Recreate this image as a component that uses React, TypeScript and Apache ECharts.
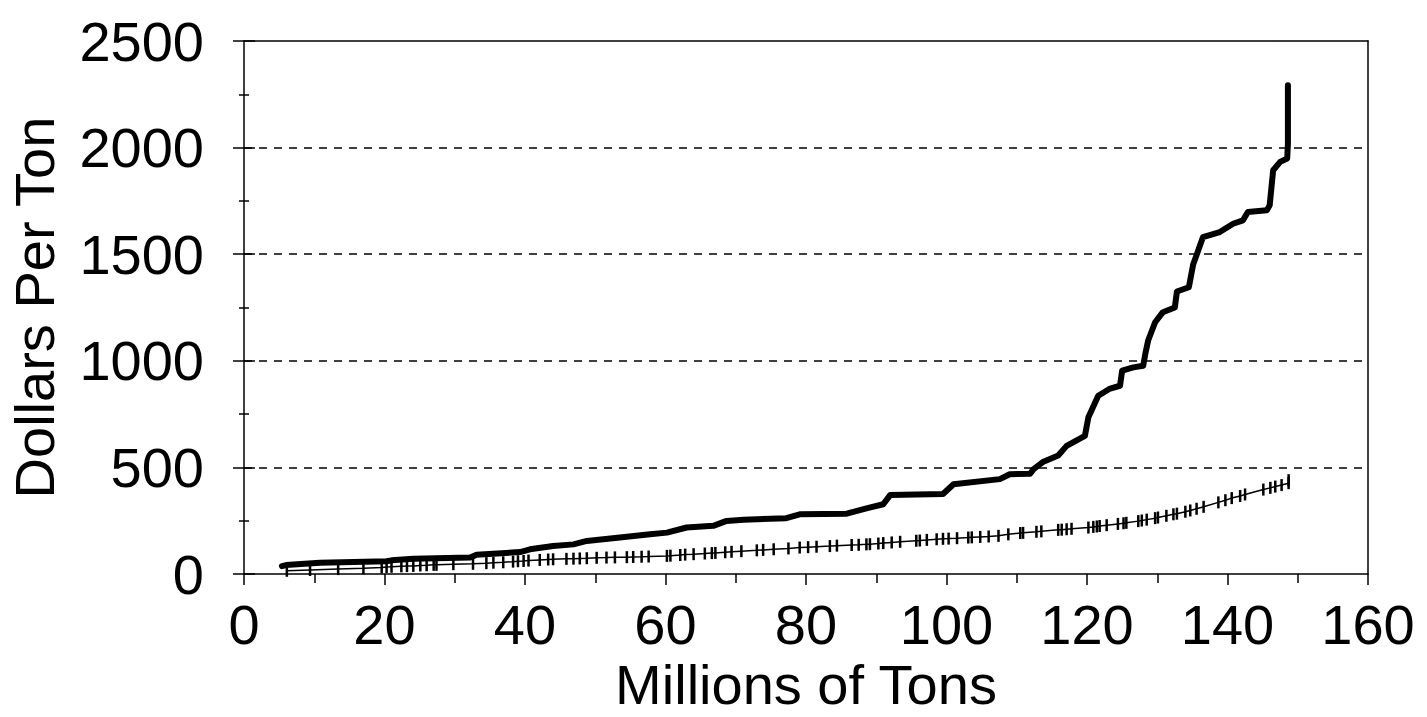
import React, { useEffect, useRef } from "react";
import * as echarts from "echarts";

// Millions of tons (x) vs dollars per ton (y)
const upperCurve: [number, number][] = [
  [5.4, 37], [6, 42], [10.8, 53], [20.3, 60], [21, 64], [24.1, 72], [32.2, 77], [33.1, 90],
  [39.3, 103], [40.7, 116], [44, 131], [46.9, 139], [48.8, 155], [53.5, 171], [57.8, 186],
  [60.2, 194], [63, 218], [66.8, 226], [68.7, 249], [71.1, 254], [77.2, 262], [79.1, 280],
  [85.8, 283], [88.6, 308], [91, 327], [92, 371], [99.5, 375], [101, 421], [107.6, 445],
  [109, 468], [111.9, 470], [112.4, 492], [113.8, 527], [115.9, 556], [117.1, 601],
  [119.7, 648], [120.2, 735], [121.6, 836], [123.3, 870], [124.7, 883], [125, 954],
  [126.6, 969], [128, 977], [128.3, 1032], [128.7, 1095], [129.7, 1181], [130.8, 1228],
  [132.5, 1250], [132.8, 1325], [134.5, 1345], [135.1, 1450], [136.5, 1580], [138.9, 1604],
  [140.8, 1643], [142.2, 1659], [142.9, 1698], [145.6, 1706], [146, 1729], [146.5, 1894],
  [147.5, 1933], [148.5, 1949], [148.6, 2019], [148.6, 2293],
];

const lowerCurve: [number, number][] = [
  [6.1, 15], [9.4, 19], [13.4, 23], [17, 27], [19.6, 31], [20.3, 33], [21, 34], [22.4, 36],
  [23.2, 37], [24.1, 38], [25.1, 40], [26, 41], [27, 43], [27.4, 43], [29.8, 46], [32.6, 48],
  [34.5, 51], [35.5, 53], [36.9, 55], [38.3, 58], [39, 60], [39.8, 61], [40.5, 63], [42.1, 66],
  [43.3, 68], [44, 69], [45.9, 71], [46.9, 72], [47.8, 73], [48.8, 74], [50.2, 76], [51.6, 77],
  [52.8, 78], [54.5, 79], [55.4, 80], [56.6, 81], [57.6, 82], [60.2, 85], [60.7, 86], [62.1, 89],
  [62.8, 91], [64, 93], [65.6, 96], [66.6, 98], [67.1, 99], [68.5, 102], [69.4, 104], [70.8, 107],
  [73, 111], [73.9, 113], [75.4, 116], [77.5, 120], [79.1, 124], [80.3, 126], [81.5, 128],
  [83.4, 131], [84.4, 133], [86.5, 136], [87.5, 137], [88.6, 139], [89.1, 140], [90.3, 143],
  [91, 145], [92.2, 148], [93.4, 151], [95.7, 156], [96.2, 157], [97.2, 160], [98.6, 163],
  [99.5, 165], [100.3, 166], [101.5, 168], [103.1, 171], [103.6, 172], [104.8, 174], [106, 176],
  [107.4, 179], [108.8, 186], [110.5, 192], [110.9, 193], [112.8, 198], [113.5, 200], [115.9, 207],
  [116.4, 208], [117.1, 210], [117.8, 212], [120.2, 218], [120.9, 221], [121.4, 223], [121.8, 225],
  [122.8, 229], [124.4, 235], [125.2, 238], [125.6, 240], [127.3, 248], [127.8, 251], [128.5, 255],
  [129.7, 262], [130.1, 265], [131.3, 273], [132.3, 280], [132.8, 283], [134, 292], [134.7, 298],
  [135.6, 306], [136.6, 315], [138.7, 336], [139.7, 346], [140.6, 356], [141.8, 366], [142.5, 373],
  [145.1, 396], [146.1, 404], [146.8, 410], [147.7, 417], [148.7, 426], [148.7, 440],
];

const xTitle = "Millions of Tons";
const yTitle = "Dollars Per Ton";

const FONT = "'Liberation Sans', Arial, sans-serif";

export default function App() {
  const ref = useRef<HTMLDivElement>(null);
  useEffect(() => {
    if (!ref.current) return;
    const chart = echarts.init(ref.current, undefined, { renderer: "svg" });
    const labelStyle = { color: "#000", fontSize: 56, fontFamily: FONT };
    const black = { color: "#000", width: 1.5 };
    chart.setOption({
      animation: false,
      backgroundColor: "#fff",
      grid: {
        left: 244, right: 59, top: 41, bottom: 143,
        outerBoundsMode: "none", containLabel: false,
        show: false,
      },
      xAxis: [
        {
          type: "value", min: 0, max: 160, interval: 20, position: "bottom",
          name: xTitle, nameLocation: "middle", nameGap: 72,
          nameTextStyle: { ...labelStyle },
          axisLine: { show: true, onZero: false, lineStyle: black },
          axisTick: { show: true, length: 11, lineStyle: black },
          minorTick: { show: true, splitNumber: 2, length: 9, lineStyle: black },
          axisLabel: { ...labelStyle, margin: 22, formatter: (v: number) => String(v) },
          splitLine: { show: false },
          z: 10,
        },
        {
          type: "value", min: 0, max: 160, interval: 20, position: "top",
          axisLine: { show: true, onZero: false, lineStyle: black },
          axisTick: { show: false },
          axisLabel: { show: false },
          splitLine: { show: false },
          z: 20,
        },
      ],
      yAxis: [
        {
          type: "value", min: 0, max: 2500, interval: 500, position: "left",
          name: yTitle, nameLocation: "middle", nameGap: 182, nameRotate: 90,
          nameTextStyle: { ...labelStyle, lineHeight: 56 },
          axisLine: { show: true, onZero: false, lineStyle: black },
          axisTick: { show: true, length: 11, lineStyle: black },
          minorTick: { show: true, splitNumber: 2, length: 5, lineStyle: black },
          axisLabel: { ...labelStyle, margin: 40, formatter: (v: number) => String(v) },
          splitLine: {
            show: true, showMinLine: false, showMaxLine: false,
            lineStyle: { color: "#000", width: 1.5, type: [8, 7] },
          },
          z: 10,
        },
        {
          type: "value", min: 0, max: 2500, interval: 500, position: "left",
          axisLine: { show: false },
          axisTick: { show: true, inside: true, length: 11, lineStyle: black },
          minorTick: { show: true, splitNumber: 2, length: 5, lineStyle: black },
          axisLabel: { show: false },
          splitLine: { show: false },
          z: 10,
        },
        {
          type: "value", min: 0, max: 2500, interval: 500, position: "right",
          axisLine: { show: true, onZero: false, lineStyle: black },
          axisTick: { show: false },
          axisLabel: { show: false },
          splitLine: { show: false },
          z: 20,
        },
      ],
      series: [
        {
          type: "line", data: lowerCurve, xAxisIndex: 0, yAxisIndex: 0,
          showSymbol: true, symbol: "rect", symbolSize: [2.5, 12],
          itemStyle: { color: "#000" },
          lineStyle: { color: "#000", width: 1.5 },
          z: 3,
        },
        {
          type: "line", data: upperCurve, xAxisIndex: 0, yAxisIndex: 0,
          showSymbol: false, symbol: "none",
          lineStyle: { color: "#000", width: 6, join: "round", cap: "round" },
          z: 4,
        },
      ],
    });
    return () => chart.dispose();
  }, []);
  return (
    <div
      ref={ref}
      style={{ position: "fixed", left: 0, top: 0, width: 1427, height: 717, background: "#fff" }}
    />
  );
}
